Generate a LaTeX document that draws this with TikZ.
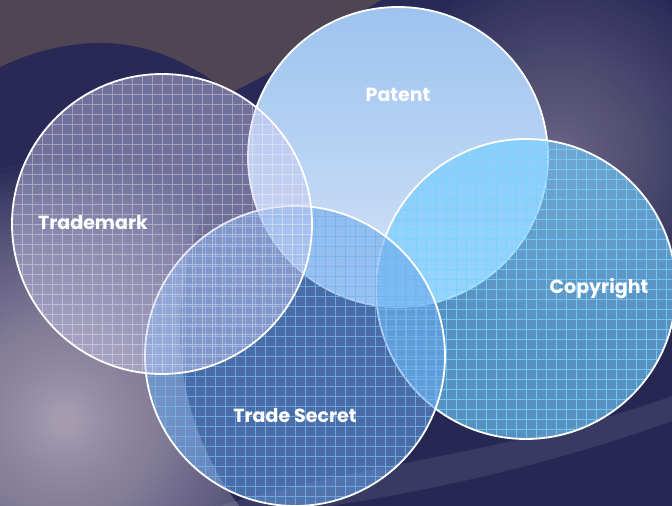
\documentclass[tikz,border=0pt]{standalone}
\usepackage{fontspec}
\setsansfont{Poppins}
\usetikzlibrary{shapes.misc,calc}

\definecolor{bgnavy}{RGB}{40,41,86}
\definecolor{deepnavy}{RGB}{38,39,82}
\definecolor{greybrown}{RGB}{79,69,83}
\definecolor{glowlow}{RGB}{196,186,204}
\definecolor{glowhigh}{RGB}{140,133,162}
\definecolor{patenttop}{RGB}{157,195,239}
\definecolor{patentbot}{RGB}{212,227,247}
\definecolor{markfill}{RGB}{200,200,238}
\definecolor{secretfill}{RGB}{104,167,237}
\definecolor{secretgrid}{RGB}{120,178,236}
\definecolor{copyfill}{RGB}{116,205,255}
\definecolor{copygrid}{RGB}{120,210,255}

\begin{document}
\begin{tikzpicture}[x=1pt,y=1pt,
    ring/.style={circle,draw=white,line width=1.8pt,minimum size=300pt,inner sep=0pt},
    gridded/.style={path picture={\draw[#1,line width=0.6pt,step=10pt]
        (path picture bounding box.south west) grid (path picture bounding box.north east);}},
    lbl/.style={text=white,font=\sffamily\bfseries\fontsize{19}{22}\selectfont}]
  \useasboundingbox (0,0) rectangle (672,506);
  % background
  \fill[bgnavy] (0,0) rectangle (672,506);
  \foreach \k in {1,...,80}
    \fill[glowlow,opacity=0.03] (65,86) circle ({260*(\k/80)^2});
  \fill[deepnavy] (470,176) circle (290);
  \foreach \k in {1,...,50}
    \fill[glowhigh,opacity=0.035] (560,352) circle ({185*(\k/50)^2});
  \fill[white,opacity=0.09] (220,0) .. controls (350,40) and (520,55) .. (672,110)
    -- (672,85) .. controls (520,30) and (380,8) .. (330,0) -- cycle;
  \fill[greybrown] (0,506) -- (381,506) .. controls (330,476) and (300,446) .. (230,413)
    .. controls (180,451) and (140,463) .. (100,463)
    .. controls (60,463) and (25,451) .. (0,439) -- cycle;
  % circles
  \node[ring,top color=patenttop,bottom color=patentbot] (patent) at (398,349) {};
  \node[ring,fill=copyfill,fill opacity=0.64,gridded={copygrid,opacity=0.8}] (copyright) at (526,217) {};
  \node[ring,fill=secretfill,fill opacity=0.55,gridded={secretgrid,opacity=0.8}] (secret) at (295,150) {};
  \node[ring,fill=markfill,fill opacity=0.45,gridded={white,opacity=0.35}] (mark) at (162,282) {};
  % labels
  \node[lbl] (patentlbl) at (398,411) {Patent};
  \node[lbl] (marklbl) at (93,283) {Trademark};
  \node[lbl] (copylbl) at (599,217) {Copyright};
  \node[lbl] (secretlbl) at (295,90) {Trade Secret};
\end{tikzpicture}
\end{document}
